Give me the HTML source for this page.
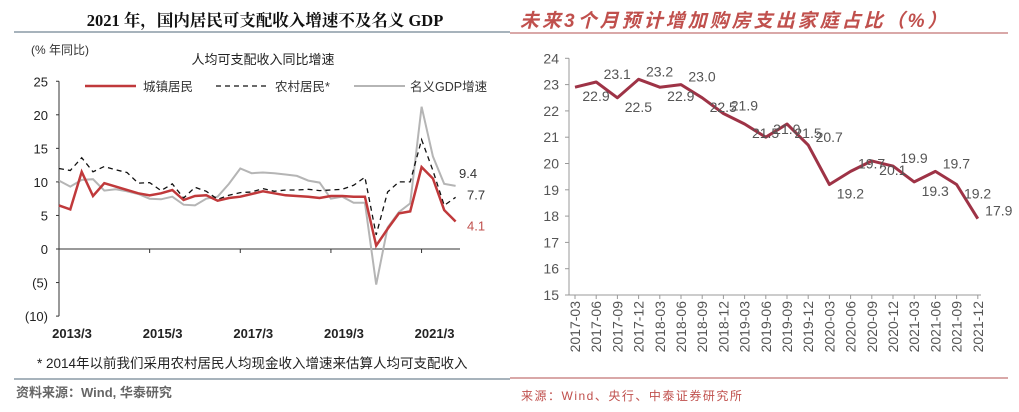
<!DOCTYPE html>
<html><head><meta charset="utf-8">
<style>
body{margin:0;background:#fff;width:1019px;height:412px;overflow:hidden;font-family:"Liberation Sans","Noto Sans CJK SC",sans-serif;}
svg{position:absolute;left:0;top:0}
</style></head>
<body>
<svg id="chart" width="1019" height="412">
  <!-- Left panel -->
  <text x="265" y="26" text-anchor="middle" font-size="16.5" font-weight="bold" fill="#111" font-family="Liberation Serif,Noto Serif CJK SC,serif">2021 年，国内居民可支配收入增速不及名义 GDP</text>
  <line x1="14" y1="32" x2="510" y2="32" stroke="#8a9aa6" stroke-width="1.5"/>
  <text x="31" y="54" font-size="12" fill="#333">(% 年同比)</text>
  <text x="263" y="64" text-anchor="middle" font-size="13" fill="#222">人均可支配收入同比增速</text>
  <g id="left-axes"></g>
  <g id="left-series"></g>
  <g>
    <line x1="85" y1="86" x2="136" y2="86" stroke="#c0393b" stroke-width="2.5"/>
    <text x="143" y="91" font-size="12.5" fill="#333">城镇居民</text>
    <line x1="216" y1="86" x2="270" y2="86" stroke="#111" stroke-width="1.3" stroke-dasharray="5,4"/>
    <text x="275" y="91" font-size="12.5" fill="#333">农村居民*</text>
    <line x1="354" y1="86" x2="405" y2="86" stroke="#b5b5b5" stroke-width="2"/>
    <text x="410" y="91" font-size="12.5" fill="#333">名义GDP增速</text>
  </g>
  <text x="37" y="368" font-size="13.5" fill="#222">* 2014年以前我们采用农村居民人均现金收入增速来估算人均可支配收入</text>
  <line x1="14" y1="379" x2="510" y2="379" stroke="#8a9aa6" stroke-width="1.5"/>
  <text x="16" y="397" font-size="13" fill="#666" font-weight="bold">资料来源：Wind, 华泰研究</text>

  <!-- Right panel -->
  <text x="520" y="27" font-size="19" font-style="italic" font-weight="bold" fill="#c0504d" letter-spacing="3">未来3个月预计增加购房支出家庭占比（%）</text>
  <line x1="510" y1="33" x2="1008" y2="33" stroke="#d9a8a8" stroke-width="2"/>
  <g id="right-axes"></g>
  <g id="right-series"></g>
  <line x1="510" y1="378" x2="1008" y2="378" stroke="#d9a8a8" stroke-width="2"/>
  <text x="521" y="400" font-size="12" fill="#c0504d" letter-spacing="1.5">来源：Wind、央行、中泰证券研究所</text>
</svg>
<script>
// ---- Left chart data (quarterly 2013Q1..2021Q4) ----
const urban = [6.5,5.9,11.5,7.9,9.8,9.3,8.8,8.3,8.0,8.3,8.8,7.3,7.9,8.0,7.2,7.6,7.8,8.2,8.6,8.3,8.0,7.9,7.8,7.6,7.9,7.9,7.8,7.8,0.5,3.0,5.3,5.6,12.2,10.5,5.8,4.1];
const rural = [12.0,11.7,13.6,11.5,12.3,11.8,11.4,9.8,9.9,8.7,9.7,7.6,9.2,8.6,7.4,8.0,8.4,8.5,9.0,8.6,8.8,8.8,8.9,8.7,8.8,8.9,9.5,10.7,2.1,8.5,10.0,10.0,16.3,11.7,6.5,7.7];
const gdp = [10.2,9.3,10.3,10.4,8.7,8.9,8.6,8.2,7.5,7.4,7.8,6.6,6.5,7.5,7.8,9.7,12.0,11.3,11.4,11.3,11.1,10.9,10.2,9.9,7.5,7.8,6.9,6.9,-5.3,3.2,5.5,6.8,21.2,13.8,9.7,9.4];
const leftYTicks = [25,20,15,10,5,0,-5,-10];
const leftYTickLabels = ["25","20","15","10","5","0","(5)","(10)"];
const leftXTickIdx = [0,8,16,24,32];
const leftXTickLabels = ["2013/3","2015/3","2017/3","2019/3","2021/3"];
const endLabels = ["4.1","7.7","9.4"];

// ---- Right chart data ----
const rCats = ["2017-03","2017-06","2017-09","2017-12","2018-03","2018-06","2018-09","2018-12","2019-03","2019-06","2019-09","2019-12","2020-03","2020-06","2020-09","2020-12","2021-03","2021-06","2021-09","2021-12"];
const rVals = [22.9,23.1,22.5,23.2,22.9,23.0,22.5,21.9,21.5,21.0,21.5,20.7,19.2,19.7,20.1,19.9,19.3,19.7,19.2,17.9];
const rYTicks = [24,23,22,21,20,19,18,17,16,15];

const NS = "http://www.w3.org/2000/svg";
function mk(tag, attrs, parent, text){const e=document.createElementNS(NS,tag);for(const k in attrs)e.setAttribute(k,attrs[k]);if(text!==undefined)e.textContent=text;parent.appendChild(e);return e;}

// Left scales
const lx = i => 59 + i*11.33;
const ly = v => 249 - v*6.71;
const la = document.getElementById('left-axes');
let e = mk('line',{x1:59,y1:ly(25),x2:59,y2:ly(-10),stroke:'#333','stroke-width':1},la);
 
e = mk('line',{x1:59,y1:ly(0),x2:460,y2:ly(0),stroke:'#333','stroke-width':1},la);
 
leftYTicks.forEach((t,k)=>{
  mk('line',{x1:56,y1:ly(t),x2:59,y2:ly(t),stroke:'#333'},la);
  e = mk('text',{x:48,y:ly(t)+5,'text-anchor':'end','font-size':13,fill:'#222'},la,leftYTickLabels[k]);
   
});
leftXTickIdx.forEach((idx,k)=>{
  mk('line',{x1:lx(idx),y1:ly(0),x2:lx(idx),y2:ly(0)+4,stroke:'#333'},la);
  e = mk('text',{x:lx(idx)+13,y:338,'text-anchor':'middle','font-size':13,'font-weight':'bold',fill:'#222'},la,leftXTickLabels[k]);
   
});
const ls = document.getElementById('left-series');
function pts(arr,fx,fy){return arr.map((v,i)=>fx(i).toFixed(1)+','+fy(v).toFixed(1)).join(' ');}
e = mk('polyline',{points:pts(gdp,lx,ly),fill:'none',stroke:'#b5b5b5','stroke-width':2},ls);
 
e = mk('polyline',{points:pts(rural,lx,ly),fill:'none',stroke:'#111','stroke-width':1.3,'stroke-dasharray':'5,4'},ls);
 
e = mk('polyline',{points:pts(urban,lx,ly),fill:'none',stroke:'#c0393b','stroke-width':2.5},ls);
 
const n = urban.length-1;
e = mk('text',{x:467,y:ly(urban[n])+9,'font-size':13,fill:'#c0504d'},ls,endLabels[0]);
 
e = mk('text',{x:467,y:ly(rural[n])+2,'font-size':13,fill:'#333'},ls,endLabels[1]);
 
e = mk('text',{x:459,y:ly(gdp[n])-8,'font-size':13,fill:'#333'},ls,endLabels[2]);
 

// Right scales
const rx = i => 575 + i*21.2;
const ry = v => 295 - (v-15)*26.3;
const ra = document.getElementById('right-axes');
e = mk('line',{x1:569,y1:ry(24),x2:569,y2:ry(15),stroke:'#999','stroke-width':1},ra);
 
e = mk('line',{x1:569,y1:ry(15),x2:981,y2:ry(15),stroke:'#999','stroke-width':1},ra);
 
rYTicks.forEach(t=>{
  mk('line',{x1:565,y1:ry(t),x2:569,y2:ry(t),stroke:'#999'},ra);
  e = mk('text',{x:559,y:ry(t)+5,'text-anchor':'end','font-size':14,fill:'#555'},ra,String(t));
   
});
rCats.forEach((c,i)=>{
  mk('line',{x1:rx(i),y1:ry(15),x2:rx(i),y2:ry(15)+4,stroke:'#999'},ra);
  e = mk('text',{x:0,y:0,'text-anchor':'end','font-size':14,fill:'#555',transform:`translate(${rx(i)+5},${ry(15)+6}) rotate(-90)`},ra,c);
   
});
const rs = document.getElementById('right-series');
e = mk('polyline',{points:pts(rVals,rx,ry),fill:'none',stroke:'#9e3346','stroke-width':3,'stroke-linejoin':'round'},rs);
 
rVals.forEach((v,i)=>{
  e = mk('text',{x:rx(i)+21,y:ry(v)+ (i%2?-3:14),'text-anchor':'middle','font-size':14,fill:'#555'},rs,v.toFixed(1));
   
});
</script>
</body></html>
